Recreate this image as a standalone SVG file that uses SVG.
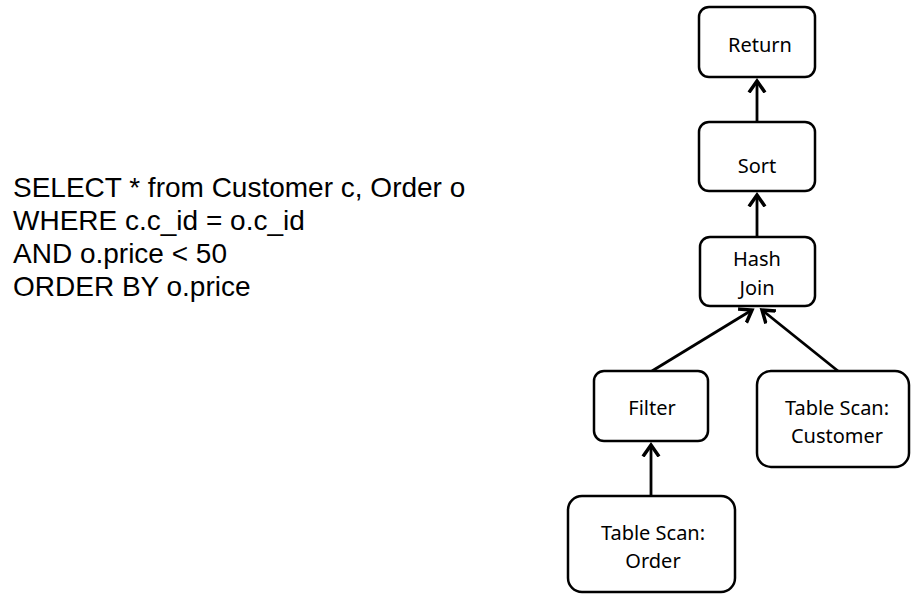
<svg xmlns="http://www.w3.org/2000/svg" width="912" height="594" viewBox="0 0 912 594">
<defs>
<style>
.box{fill:#fff;stroke:#000;stroke-width:2.5}
.lbl{font-family:"Noto Sans","Open Sans",sans-serif;font-size:20px;fill:#000;text-anchor:middle}
.sql{font-family:"Liberation Sans",Arial,sans-serif;font-size:28px;fill:#000}
.edge{stroke:#000;stroke-width:2.8;fill:none;marker-end:url(#ah)}
</style>
<marker id="ah" markerWidth="24" markerHeight="24" viewBox="-12 -12 24 24" refX="0" refY="0" orient="auto" markerUnits="userSpaceOnUse">
<path d="M-10,-7 L0,0 L-10,7" fill="none" stroke="#000" stroke-width="3.5" stroke-linecap="square"/>
</marker>
</defs>
<rect width="912" height="594" fill="#fff"/>
<g id="sql">
<text class="sql" x="13" y="197">SELECT * from Customer c, Order o</text>
<text class="sql" x="13" y="230">WHERE c.c_id = o.c_id</text>
<text class="sql" x="13" y="263">AND o.price &lt; 50</text>
<text class="sql" x="13" y="296">ORDER BY o.price</text>
</g>
<g id="connectors">
<line class="edge" x1="757" y1="122" x2="757" y2="81"/>
<line class="edge" x1="757" y1="237" x2="757" y2="195"/>
<line class="edge" x1="652" y1="371" x2="752" y2="310"/>
<line class="edge" x1="838" y1="371" x2="762" y2="310"/>
<line class="edge" x1="651" y1="496" x2="651" y2="445"/>
</g>
<g id="return">
<rect class="box" x="699" y="7" width="116" height="70" rx="10"/>
<text class="lbl" x="760" y="52">Return</text>
</g>
<g id="sort">
<rect class="box" x="699" y="122" width="116" height="69" rx="10"/>
<text class="lbl" x="757" y="173">Sort</text>
</g>
<g id="hashjoin">
<rect class="box" x="700" y="237" width="115" height="69" rx="10"/>
<text class="lbl" x="757" y="266">Hash</text>
<text class="lbl" x="757" y="295">Join</text>
</g>
<g id="filter">
<rect class="box" x="594" y="371" width="114" height="70" rx="10"/>
<text class="lbl" x="652" y="415">Filter</text>
</g>
<g id="scancustomer">
<rect class="box" x="757" y="371" width="152" height="96" rx="14"/>
<text class="lbl" x="837" y="415">Table Scan:</text>
<text class="lbl" x="837" y="443">Customer</text>
</g>
<g id="scanorder">
<rect class="box" x="568" y="496" width="167" height="96" rx="14"/>
<text class="lbl" x="653" y="540">Table Scan:</text>
<text class="lbl" x="653" y="568">Order</text>
</g>
</svg>
